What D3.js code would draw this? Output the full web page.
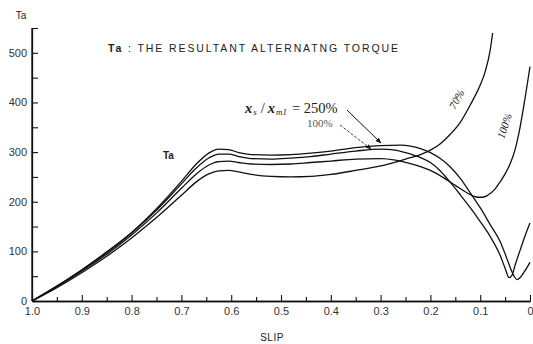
<!DOCTYPE html>
<html>
<head>
<meta charset="utf-8">
<script src="https://cdn.jsdelivr.net/npm/d3@7"></script>
<style>
  body { margin: 0; background: #fff; }
</style>
</head>
<body>
<svg id="chart" width="533" height="344"></svg>
<script>
// Slip axis (runs from 1.0 on the left to 0 on the right) and torque axis
const slipTicks = [1.0, 0.9, 0.8, 0.7, 0.6, 0.5, 0.4, 0.3, 0.2, 0.1, 0];
const slipMinorTicks = [0.95, 0.85, 0.75, 0.65, 0.55, 0.45, 0.35, 0.25, 0.15, 0.05];
const torqueTicks = [0, 100, 200, 300, 400, 500];
const torqueMinorTicks = [50, 150, 250, 350, 450, 550];

// Resultant alternating torque Ta vs slip, [slip, Ta]
const curve250 = [[1.0,0],[0.95,30],[0.9,63],[0.85,99],[0.8,138],[0.75,186],[0.7,241],[0.67,276],[0.645,298],[0.625,306],[0.605,305],[0.585,299],[0.56,295],[0.52,294],[0.48,295],[0.44,298],[0.4,302],[0.35,309],[0.3,313],[0.26,314],[0.24,312],[0.22,307],[0.2,299],[0.18,287],[0.16,270],[0.14,247],[0.12,218],[0.1,188],[0.08,154],[0.06,120],[0.05,95],[0.04,68],[0.032,50],[0.026,43],[0.02,47],[0.012,58],[0,78]];
const curve100 = [[1.0,0],[0.95,30],[0.9,62],[0.85,97],[0.8,137],[0.75,183],[0.7,236],[0.67,268],[0.645,288],[0.625,296],[0.605,296],[0.585,291],[0.56,287],[0.52,286],[0.48,288],[0.44,291],[0.4,296],[0.35,302],[0.3,306],[0.27,304],[0.25,299],[0.22,289],[0.2,279],[0.18,262],[0.16,239],[0.14,214],[0.12,188],[0.1,160],[0.08,130],[0.06,92],[0.05,66],[0.042,47],[0.036,52],[0.03,72],[0.02,102],[0.01,131],[0,157]];
const curveRise100 = [[1.0,0],[0.95,29],[0.9,60],[0.85,94],[0.8,133],[0.75,177],[0.7,227],[0.67,256],[0.645,274],[0.625,281],[0.605,282],[0.585,279],[0.56,276],[0.52,275],[0.48,276],[0.44,279],[0.4,282],[0.35,286],[0.3,287],[0.27,284],[0.24,277],[0.2,263],[0.17,246],[0.15,233],[0.13,220],[0.115,212],[0.105,209],[0.095,209],[0.085,213],[0.07,226],[0.06,240],[0.05,256],[0.04,276],[0.03,305],[0.02,350],[0.01,408],[0,472]];
const curveRise70 = [[1.0,0],[0.95,27],[0.9,57],[0.85,90],[0.8,127],[0.75,168],[0.7,213],[0.67,240],[0.645,256],[0.625,262],[0.605,263],[0.585,260],[0.56,255],[0.52,251],[0.48,250],[0.44,251],[0.4,255],[0.35,263],[0.3,272],[0.27,280],[0.25,286],[0.22,295],[0.2,304],[0.18,317],[0.16,336],[0.14,360],[0.12,395],[0.1,435],[0.09,462],[0.08,505],[0.075,540]];
const curves = [curve250, curve100, curveRise100, curveRise70];

const SANS = "\"Liberation Sans\", Arial, sans-serif";
const SERIF = "\"Liberation Serif\", \"DejaVu Serif\", serif";

const svg = d3.select("#chart");
const x = d3.scaleLinear().domain([1, 0]).range([32, 530]);
const y = d3.scaleLinear().domain([0, 550]).range([301, 28]);

// Axes with inward ticks
const fmtSlip = d => d === 0 ? "0" : d3.format(".1f")(d);
const xAxis = svg.append("g").attr("transform", "translate(0,301)")
  .call(d3.axisBottom(x).tickValues(slipTicks).tickSizeInner(-6).tickSizeOuter(0).tickPadding(6).tickFormat(fmtSlip));
const xMinor = svg.append("g").attr("transform", "translate(0,301)")
  .call(d3.axisBottom(x).tickValues(slipMinorTicks).tickSizeInner(-4).tickSizeOuter(0).tickFormat(""));
const yAxis = svg.append("g").attr("transform", "translate(32,0)")
  .call(d3.axisLeft(y).tickValues(torqueTicks).tickSizeInner(-6).tickSizeOuter(0).tickPadding(5));
const yMinor = svg.append("g").attr("transform", "translate(32,0)")
  .call(d3.axisLeft(y).tickValues(torqueMinorTicks).tickSizeInner(-6).tickSizeOuter(0).tickFormat(""));

[xAxis, xMinor, yAxis, yMinor].forEach(g => {
  g.select(".domain").attr("stroke", "#111").attr("stroke-width", 1.3);
  g.selectAll(".tick line").attr("stroke", "#111").attr("stroke-width", 1.1);
  g.selectAll(".tick text").attr("font-size", 11).attr("fill", "#333").attr("font-family", SANS);
});
yAxis.select(".domain").attr("d", `M0,${y(550)}V${y(0)}`);

// Torque curves
const line = d3.line().x(d => x(d[0])).y(d => y(d[1])).curve(d3.curveMonotoneX);
svg.append("g").selectAll("path").data(curves).join("path")
  .attr("d", line).attr("fill", "none").attr("stroke", "#111").attr("stroke-width", 1.3);

// Annotations
const ann = svg.append("g").attr("font-family", SANS).attr("fill", "#222");
ann.append("text").attr("x", 21).attr("y", 19).attr("text-anchor", "middle").attr("font-size", 10).text("Ta");
const title = ann.append("text").attr("x", 108).attr("y", 52).attr("font-size", 10.5).attr("letter-spacing", 1.9);
title.append("tspan").attr("font-weight", "bold").text("Ta");
title.append("tspan").text(" : THE RESULTANT ALTERNATNG TORQUE");
ann.append("text").attr("x", 163).attr("y", 159).attr("font-size", 10).attr("font-weight", "bold").text("Ta");

const ratio = ann.append("text").attr("x", 245).attr("y", 113)
  .attr("font-family", SERIF).attr("font-size", 14.5);
ratio.append("tspan").attr("font-weight", "bold").attr("font-style", "italic").text("x");
ratio.append("tspan").attr("font-size", 9).attr("dy", 2).attr("dx", 1).attr("font-style", "italic").text("s");
ratio.append("tspan").attr("dy", -2).attr("dx", 4).text("/");
ratio.append("tspan").attr("dx", 3).attr("font-weight", "bold").attr("font-style", "italic").text("x");
ratio.append("tspan").attr("font-size", 9).attr("dy", 2).attr("dx", 1).attr("font-style", "italic").text("m1");
ratio.append("tspan").attr("dy", -2).attr("dx", 5).text("= 250%");
ann.append("text").attr("x", 307).attr("y", 127).attr("font-family", SERIF)
  .attr("font-size", 11).attr("fill", "#555").text("100%");

svg.append("defs").append("marker").attr("id", "arr").attr("viewBox", "0 0 10 10")
  .attr("refX", 9).attr("refY", 5).attr("markerWidth", 6).attr("markerHeight", 6).attr("orient", "auto")
  .append("path").attr("d", "M0,1L10,5L0,9z").attr("fill", "#111");
svg.append("line").attr("x1", 347).attr("y1", 110).attr("x2", 381).attr("y2", 143)
  .attr("stroke", "#111").attr("stroke-width", 1).attr("marker-end", "url(#arr)");
svg.append("line").attr("x1", 340).attr("y1", 125).attr("x2", 371).attr("y2", 149)
  .attr("stroke", "#333").attr("stroke-width", 0.9).attr("stroke-dasharray", "3,1.5").attr("marker-end", "url(#arr)");

ann.append("text").attr("transform", "translate(460,101) rotate(-62)").attr("text-anchor", "middle")
  .attr("font-family", SERIF).attr("font-size", 11).attr("font-style", "italic").text("70%");
ann.append("text").attr("transform", "translate(508,127) rotate(-72)").attr("text-anchor", "middle")
  .attr("font-family", SERIF).attr("font-size", 11).attr("font-style", "italic").text("100%");

ann.append("text").attr("x", 272).attr("y", 341).attr("text-anchor", "middle").attr("font-size", 10)
  .attr("letter-spacing", 0.5).text("SLIP");
</script>
</body>
</html>
